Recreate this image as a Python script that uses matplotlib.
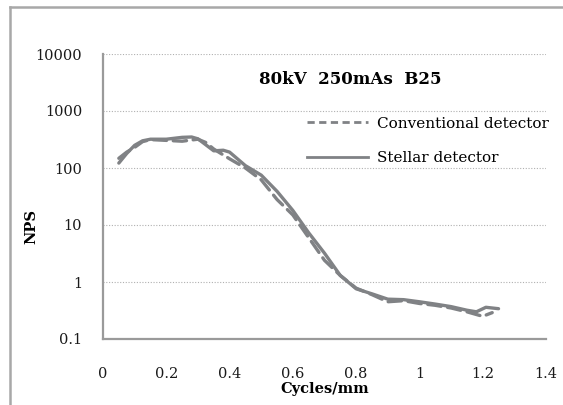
import matplotlib.pyplot as plt
from matplotlib.lines import Line2D
from matplotlib.ticker import FixedLocator, FixedFormatter, NullLocator

freq_conv = [0.05, 0.075, 0.1, 0.125, 0.15, 0.2, 0.25, 0.3, 0.325, 0.35, 0.4, 0.45,
             0.5, 0.55, 0.6, 0.65, 0.7, 0.75, 0.8, 0.85, 0.9, 0.95, 1.0, 1.05,
             1.1, 1.15, 1.2, 1.23]
nps_conv = [148, 190, 230, 290, 315, 305, 295, 320, 280, 215, 145, 100,
            62, 28, 15, 6, 2.4, 1.3, 0.78, 0.6, 0.45, 0.47, 0.42, 0.39,
            0.35, 0.30, 0.25, 0.29]

freq_stel = [0.05, 0.075, 0.1, 0.125, 0.15, 0.2, 0.25, 0.28, 0.3, 0.35, 0.38, 0.4,
             0.45, 0.5, 0.55, 0.6, 0.65, 0.7, 0.75, 0.8, 0.85, 0.9, 0.95, 1.0,
             1.05, 1.1, 1.15, 1.18, 1.21, 1.25]
nps_stel = [122, 180, 250, 300, 320, 320, 345, 350, 325, 200, 205, 190,
            110, 75, 39, 18, 7.3, 3.2, 1.3, 0.76, 0.62, 0.5, 0.49, 0.45,
            0.41, 0.37, 0.32, 0.30, 0.36, 0.34]

yticks = [0.1, 1, 10, 100, 1000, 10000]
ylabels = ['0.1', '1', '10', '100', '1000', '10000']
xticks = [0, 0.2, 0.4, 0.6, 0.8, 1.0, 1.2, 1.4]
xlabels = ['0', '0.2', '0.4', '0.6', '0.8', '1', '1.2', '1.4']

plt.rcParams['font.family'] = ['DejaVu Serif']
grey = '#808285'

fig = plt.figure(figsize=(5.63, 4.05), dpi=100)
ax = fig.add_axes([103/563, 1-339/405, (546-103)/563, (339-54)/405])

# outer frame (left and top edges)
fig.add_artist(Line2D([10/563, 10/563], [0, 1-7/405], color='#a8a8a8', lw=1.8))
fig.add_artist(Line2D([10/563, 1], [1-7/405, 1-7/405], color='#a8a8a8', lw=1.8))

ax.plot(freq_conv, nps_conv, color=grey, lw=2.4, ls=(0, (4, 2.0)),
        solid_capstyle='round', dash_capstyle='round')
ax.plot(freq_stel, nps_stel, color=grey, lw=2.4, solid_capstyle='round')

ax.set_yscale('log')
ax.set_xlim(0, 1.4)
ax.set_ylim(0.1, 10000)
ax.yaxis.set_major_locator(FixedLocator(yticks))
ax.yaxis.set_major_formatter(FixedFormatter(ylabels))
ax.yaxis.set_minor_locator(NullLocator())
ax.set_xticks(xticks)
ax.set_xticklabels(xlabels)
ax.tick_params(length=0, labelsize=10.5, colors='#1a1a1a')
ax.tick_params(axis='x', pad=20)
ax.tick_params(axis='y', pad=15)
ax.grid(axis='y', color='#b0b0b0', ls=(0, (1, 1.5)), lw=0.8)

for s in ['top', 'right']:
    ax.spines[s].set_visible(False)
for s in ['left', 'bottom']:
    ax.spines[s].set_color('#9a9a9a')
    ax.spines[s].set_linewidth(1.6)

ax.set_xlabel('Cycles/mm', fontweight='bold', fontsize=10.5, labelpad=1)
ax.set_ylabel('NPS', fontweight='bold', fontsize=10.5)
ax.yaxis.set_label_coords(-0.147, 0.393)
ax.text(0.78, 3600, '80kV  250mAs  B25', fontweight='bold', fontsize=12,
        ha='center', va='center')

# legend handles: shorter dashes than the plotted curve, as in the original
handles = [Line2D([], [], color=grey, lw=2.0, ls=(0, (2.6, 1.6))),
           Line2D([], [], color=grey, lw=2.0)]
ax.legend(handles, ['Conventional detector', 'Stellar detector'],
          loc='upper left', bbox_to_anchor=(0.447, 0.802), frameon=False,
          fontsize=11, handlelength=4.0, handletextpad=0.6, labelspacing=1.35,
          borderaxespad=0)

fig.savefig('out.png', dpi=100)
